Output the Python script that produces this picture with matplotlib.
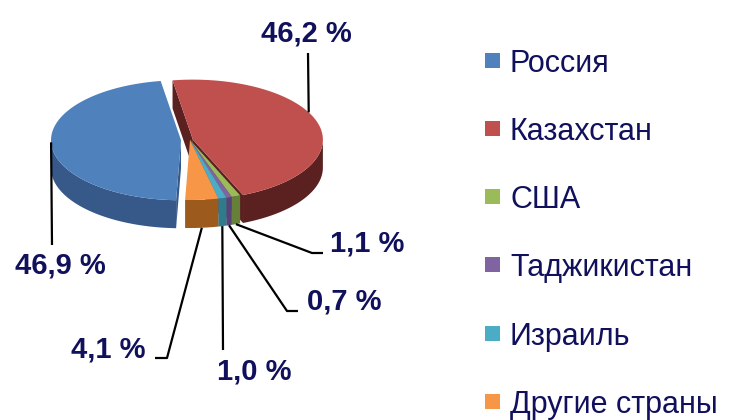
import numpy as np
import matplotlib.pyplot as plt
from matplotlib.patches import Polygon, Rectangle

# ---- data ----
countries = ["Россия", "Казахстан", "США", "Таджикистан", "Израиль", "Другие страны"]
shares = [46.9, 46.2, 1.1, 0.7, 1.0, 4.1]
top_colors = ["#4f81bd", "#c0504d", "#9bbb59", "#8064a2", "#4bacc6", "#f79646"]
side_colors = ["#36598a", "#5a2120", "#66803a", "#574379", "#2e7b8e", "#9c5a1c"]

# ---- layout (pixels) ----
W, H = 731, 420
cx, cy = 190, 140        # centre of the top face
rx, ry = 130, 60         # ellipse radii
depth = 28               # height of the pie side
first_angle = 182.16     # clockwise from 12 o'clock
explode = [9, 3, 0, 0, 0, 0]

# leader lines: anchor angle, side ("top" / "bottom"), further points, label centre
anchors = [(268, "top"), (63, "top"), (None, "bottom"), (None, "bottom"),
           (None, "bottom"), (None, "bottom")]
leader_pts = [[(52, 245)], [(308, 53)], [(312, 253), (323, 253)],
              [(287, 311), (298, 311)], [(223, 350)], [(167, 358), (155, 358)]]
label_pos = [(60, 265), (306, 33), (367, 244), (344, 301), (254, 372), (108, 349)]

label_color = "#10105c"
plt.rcParams["font.family"] = ["Liberation Sans", "DejaVu Sans"]

fig = plt.figure(figsize=(W / 100, H / 100), dpi=100)
ax = fig.add_axes([0, 0, 1, 1])
ax.set_xlim(0, W)
ax.set_ylim(H, 0)
ax.axis("off")

spans = np.array(shares) / sum(shares) * 360
bounds = first_angle + np.concatenate([[0], np.cumsum(spans)])


def rim(theta, ox, oy, dz=0.0):
    t = np.radians(theta)
    return cx + ox + rx * np.sin(t), cy + oy - ry * np.cos(t) + dz


slices = []
for i in range(len(shares)):
    a0, a1 = bounds[i], bounds[i + 1]
    mid = np.radians((a0 + a1) / 2)
    ox = explode[i] * np.sin(mid)
    oy = -explode[i] * (ry / rx) * np.cos(mid)
    slices.append((a0, a1, ox, oy))

# radial cut faces that face the viewer
for i, (a0, a1, ox, oy) in enumerate(slices):
    for a, normal in ((a0, a0 - 90), (a1, a1 + 90)):
        if np.cos(np.radians(normal)) < 0:
            x1, y1 = rim(a, ox, oy)
            quad = [(cx + ox, cy + oy), (x1, y1), (x1, y1 + depth),
                    (cx + ox, cy + oy + depth)]
            ax.add_patch(Polygon(quad, closed=True, fc=side_colors[i], ec="none"))

# outer walls (front half only)
for i, (a0, a1, ox, oy) in enumerate(slices):
    for k in (-1, 0, 1):
        lo = max(a0, 90 + 360 * k)
        hi = min(a1, 270 + 360 * k)
        if hi <= lo:
            continue
        th = np.linspace(lo, hi, 60)
        xs, ys = rim(th, ox, oy)
        pts = list(zip(xs, ys)) + list(zip(xs[::-1], ys[::-1] + depth))
        ax.add_patch(Polygon(pts, closed=True, fc=side_colors[i], ec="none"))

# top faces
for i, (a0, a1, ox, oy) in enumerate(slices):
    th = np.linspace(a0, a1, 200)
    xs, ys = rim(th, ox, oy)
    pts = [(cx + ox, cy + oy)] + list(zip(xs, ys))
    ax.add_patch(Polygon(pts, closed=True, fc=top_colors[i], ec="none"))

# data labels with leader lines
for i, (a0, a1, ox, oy) in enumerate(slices):
    ang, where = anchors[i]
    if ang is None:
        ang = (a0 + a1) / 2
    x0, y0 = rim(ang, ox, oy, depth if where == "bottom" else 0)
    path = [(x0, y0)] + leader_pts[i]
    ax.plot([p[0] for p in path], [p[1] for p in path], color="black", lw=1.6,
            solid_capstyle="butt")
    txt = f"{shares[i]:.1f}".replace(".", ",") + " %"
    ax.text(label_pos[i][0], label_pos[i][1], txt, ha="center", va="center",
            fontsize=21, fontweight="bold", color=label_color)

# legend
for i, name in enumerate(countries):
    y = 60 + 68.3 * i
    ax.add_patch(Rectangle((485, y - 7.5), 15, 15, fc=top_colors[i], ec="none"))
    ax.text(510, y, name, ha="left", va="center_baseline", fontsize=22,
            color=label_color)

fig.savefig("out.png", dpi=100)
